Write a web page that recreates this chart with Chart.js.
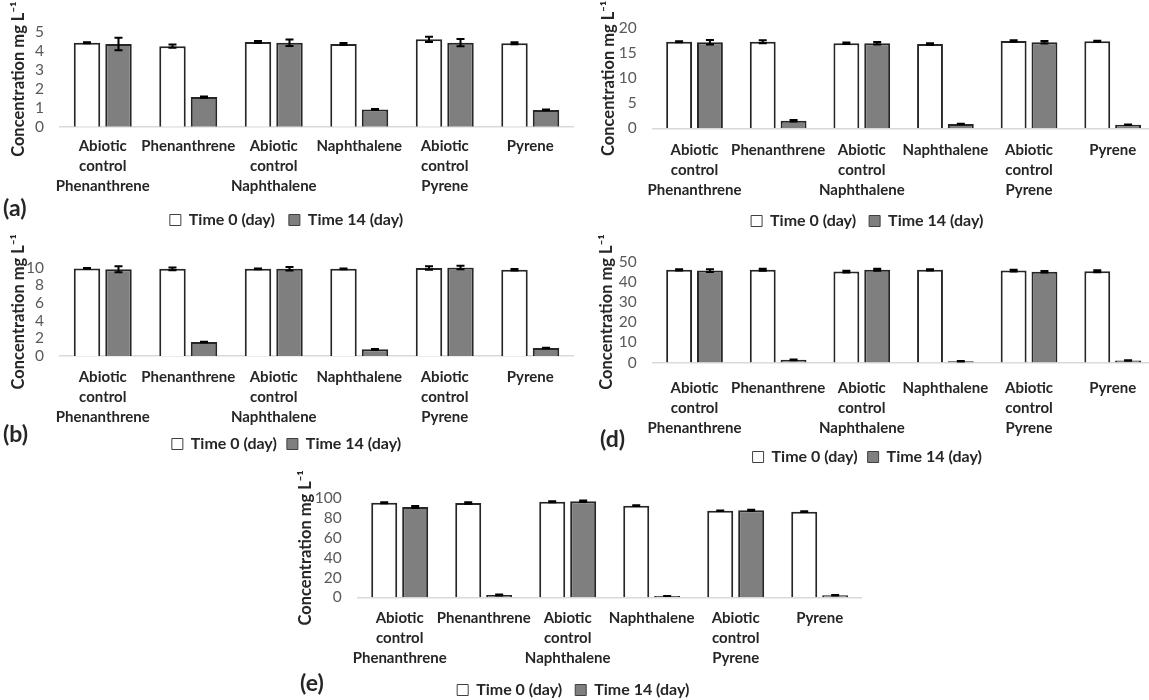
<!DOCTYPE html>
<html><head><meta charset="utf-8">
<script src="https://cdn.jsdelivr.net/npm/chart.js@4.4.1/dist/chart.umd.min.js"></script>
<style>
html,body{margin:0;padding:0;width:1149px;height:700px;overflow:hidden;background:#fff;}
canvas{position:absolute;}
.lbl{position:absolute;font:bold 23px Lato, sans-serif;color:#262626;line-height:26px;}
</style></head><body>
<canvas id="pa"></canvas><canvas id="pc"></canvas><canvas id="pb"></canvas><canvas id="pd"></canvas><canvas id="pe"></canvas>
<div class="lbl" style="left:3px;top:194px;">(a)</div>
<div class="lbl" style="left:3px;top:420px;">(b)</div>
<div class="lbl" style="left:600px;top:425px;">(d)</div>
<div class="lbl" style="left:300px;top:669px;">(e)</div>
<script>
// ---- data ----
const categories = [["Abiotic","control","Phenanthrene"],"Phenanthrene",["Abiotic","control","Naphthalene"],"Naphthalene",["Abiotic","control","Pyrene"],"Pyrene"];
const seriesNames = ["Time 0 (day)","Time 14 (day)"];
const axisTitle = "Concentration mg L\u207B\u00B9";

const aTime0   = [4.42, 4.24, 4.46, 4.35, 4.60, 4.39];
const aTime14  = [4.35, 1.56, 4.42, 0.91, 4.42, 0.88];
const aErr0    = [0.03, 0.08, 0.05, 0.05, 0.14, 0.05];
const aErr14   = [0.33, 0.03, 0.17, 0.02, 0.19, 0.02];
const aTicks   = [0, 1, 2, 3, 4, 5];

const cTime0   = [17.33, 17.33, 17.0, 16.87, 17.47, 17.4];
const cTime14  = [17.2, 1.53, 17.0, 0.87, 17.2, 0.73];
const cErr0    = [0.1, 0.3, 0.15, 0.15, 0.15, 0.1];
const cErr14   = [0.45, 0.15, 0.25, 0.05, 0.25, 0.05];
const cTicks   = [0, 5, 10, 15, 20];

const bTime0   = [9.9, 9.85, 9.85, 9.85, 9.95, 9.75];
const bTime14  = [9.8, 1.58, 9.85, 0.75, 10.0, 0.9];
const bErr0    = [0.03, 0.15, 0.05, 0.05, 0.2, 0.08];
const bErr14   = [0.35, 0.04, 0.2, 0.05, 0.2, 0.03];
const bTicks   = [0, 2, 4, 6, 8, 10];

const dTime0   = [45.9, 45.9, 45.0, 45.9, 45.5, 45.2];
const dTime14  = [45.5, 1.3, 45.9, 0.6, 44.9, 1.0];
const dErr0    = [0.3, 0.5, 0.4, 0.3, 0.4, 0.5];
const dErr14   = [0.7, 0.2, 0.5, 0.1, 0.4, 0.1];
const dTicks   = [0, 10, 20, 30, 40, 50];

const eTime0   = [95.6, 95.3, 96.6, 92.6, 87.5, 86.5];
const eTime14  = [91.2, 2.4, 97.0, 1.3, 87.9, 2.0];
const eErr0    = [0.5, 0.8, 0.5, 0.4, 0.3, 0.4];
const eErr14   = [1.0, 0.5, 0.7, 0.1, 0.6, 0.2];
const eTicks   = [0, 20, 40, 60, 80, 100];

// ---- error bar plugin ----
const errorBars = {
  id: 'errorBars',
  afterDatasetsDraw(chart) {
    const ctx = chart.ctx, y = chart.scales.y;
    chart.data.datasets.forEach((ds, di) => {
      const meta = chart.getDatasetMeta(di);
      meta.data.forEach((bar, i) => {
        const v = ds.data[i], e = ds.errors[i];
        const top = y.getPixelForValue(v + e), bot = y.getPixelForValue(v - e);
        ctx.save();
        ctx.strokeStyle = '#000'; ctx.lineWidth = 2;
        ctx.beginPath();
        ctx.moveTo(bar.x, top); ctx.lineTo(bar.x, bot);
        ctx.moveTo(bar.x - 4, top); ctx.lineTo(bar.x + 4, top);
        ctx.moveTo(bar.x - 4, bot); ctx.lineTo(bar.x + 4, bot);
        ctx.stroke();
        ctx.restore();
      });
    });
  }
};

const FILL0 = '#ffffff', FILL14 = '#7f7f7f', EDGE = '#262626';
const LEG_FONT = 16, LEG_BOX = 11;
const LBL_FONT = 15, LBL_LH = 20;

function makePanel(id, L, t0, t14, e0, e14, ticks) {
  const cv = document.getElementById(id);
  cv.width = L.W; cv.height = L.H;
  cv.style.left = L.cl + 'px'; cv.style.top = L.ct + 'px';
  const itemH = Math.max(LEG_FONT, LEG_BOX);
  const xAxisH = L.legendY - L.b - L.legPad - itemH / 2;
  const legendH = itemH + L.legPad + 10;
  const padBottom = Math.max(0, L.ct + L.H - (L.b + xAxisH + legendH));
  new Chart(cv, {
    type: 'bar',
    data: {
      labels: categories,
      datasets: [
        {label: seriesNames[0], data: t0, errors: e0, backgroundColor: FILL0, borderColor: EDGE, borderWidth: 2},
        {label: seriesNames[1], data: t14, errors: e14, backgroundColor: FILL14, borderColor: EDGE, borderWidth: 2}
      ]
    },
    options: {
      responsive: false, animation: false, devicePixelRatio: 1,
      layout: {padding: {left: 0, right: L.cl + L.W - L.r, top: L.t - L.ct, bottom: padBottom}},
      datasets: {bar: {categoryPercentage: 0.737, barPercentage: 0.84}},
      plugins: {
        tooltip: {enabled: false},
        legend: {
          position: 'bottom',
          labels: {
            boxWidth: LEG_BOX, boxHeight: LEG_BOX, padding: L.legPad, color: '#262626',
            font: {family: 'Lato', weight: 'bold', size: LEG_FONT},
            generateLabels: (chart) => chart.data.datasets.map((ds, i) => ({
              text: ds.label, fillStyle: ds.backgroundColor, strokeStyle: '#404040',
              lineWidth: 1, datasetIndex: i, hidden: false, fontColor: '#262626'
            }))
          }
        }
      },
      scales: {
        x: {
          grid: {display: false, drawTicks: false},
          border: {display: true, color: '#d9d9d9', width: 1.5},
          ticks: {color: '#262626', font: {family: 'Lato', weight: 'bold', size: LBL_FONT, lineHeight: LBL_LH / LBL_FONT},
                  padding: L.gap - LBL_LH / 2, maxRotation: 0, minRotation: 0, autoSkip: false},
          afterFit: (s) => { s.height = xAxisH; }
        },
        y: {
          min: ticks[0], max: ticks[ticks.length - 1],
          afterBuildTicks: (s) => { s.ticks = ticks.map(v => ({value: v})); },
          grid: {display: false, drawTicks: false},
          border: {display: false},
          ticks: {color: '#595959', font: {family: 'Lato', size: 15.5}, padding: 16, autoSkip: false},
          title: {display: true, text: axisTitle, color: '#262626',
                  font: {family: 'Lato', weight: 'bold', size: 16.5},
                  padding: {top: L.titleX - L.cl - 10, bottom: 0}},
          afterFit: (s) => { s.width = L.l - L.cl; }
        }
      }
    },
    plugins: [errorBars]
  });
}

makePanel('pa', {cl: 0,   ct: 0,   W: 590, H: 240, l: 60,    r: 573,    t: 31.7,  b: 126.7, gap: 19.5, legendY: 220, legPad: 14, titleX: 19},  aTime0, aTime14, aErr0, aErr14, aTicks);
makePanel('pc', {cl: 580, ct: 0,   W: 590, H: 240, l: 652.7, r: 1154.5, t: 28.3,  b: 128.3, gap: 21.5, legendY: 221, legPad: 13, titleX: 609}, cTime0, cTime14, cErr0, cErr14, cTicks);
makePanel('pb', {cl: 0,   ct: 235, W: 590, H: 232, l: 60,    r: 573,    t: 267.5, b: 356,   gap: 21,   legendY: 444, legPad: 10, titleX: 19},  bTime0, bTime14, bErr0, bErr14, bTicks);
makePanel('pd', {cl: 580, ct: 235, W: 590, H: 245, l: 652.7, r: 1154.5, t: 261.5, b: 362.5, gap: 26,   legendY: 457, legPad: 10, titleX: 607}, dTime0, dTime14, dErr0, dErr14, dTicks);
makePanel('pe', {cl: 285, ct: 470, W: 600, H: 245, l: 357.7, r: 861.7,  t: 498.3, b: 597.3, gap: 21,   legendY: 690, legPad: 13, titleX: 306}, eTime0, eTime14, eErr0, eErr14, eTicks);
</script>
</body></html>
